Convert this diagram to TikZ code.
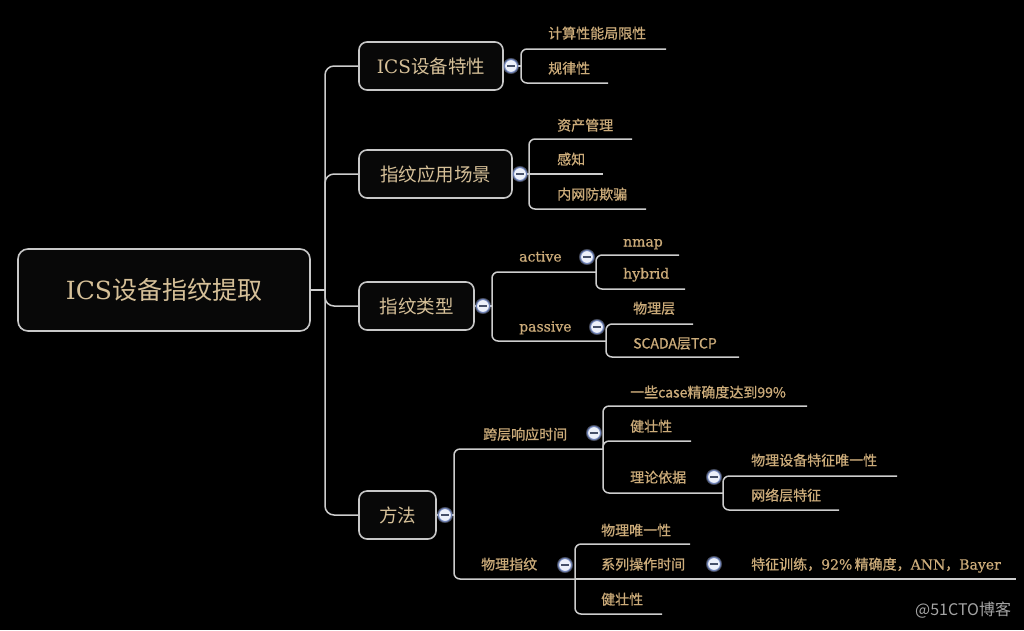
\documentclass[tikz,border=0pt]{standalone}
\usepackage{fontspec}
\setmainfont{DejaVu Serif}
\newfontfamily\cjk{Noto Sans CJK SC}
\newfontfamily\cjkl[FakeBold=0.8]{Noto Sans CJK SC}
\newfontfamily\serl[FakeBold=0.6]{DejaVu Serif}
\definecolor{bgc}{RGB}{0,0,0}
\definecolor{linec}{RGB}{205,205,205}
\definecolor{boxfill}{RGB}{8,8,8}
\definecolor{boxedge}{RGB}{200,200,200}
\definecolor{boxtext}{RGB}{214,192,152}
\definecolor{leaftext}{RGB}{204,172,122}
\definecolor{btnfill}{RGB}{236,240,250}
\definecolor{btnedge}{RGB}{110,130,185}
\definecolor{btnminus}{RGB}{70,80,105}
\definecolor{wmc}{RGB}{165,165,165}
\begin{document}
\begin{tikzpicture}[x=1pt,y=-1pt,
  rootbox/.style={draw=boxedge, fill=boxfill, line width=1.6pt, rounded corners=10pt,
    minimum width=292pt, minimum height=82pt, inner sep=0pt, text=boxtext,
    font=\fontsize{25}{28}\selectfont\cjk},
  topicbox/.style={draw=boxedge, fill=boxfill, line width=1.6pt, rounded corners=8pt,
    minimum height=48pt, inner sep=0pt, text=boxtext,
    font=\fontsize{18.5}{21}\selectfont\cjk},
  leaf/.style={anchor=west, inner sep=0pt, text=leaftext, text height=11.5pt, text depth=2.5pt,
    font=\fontsize{14}{16}\selectfont\cjkl},
  conn/.style={draw=linec, line width=1.5pt, rounded corners=6pt},
  trunk/.style={draw=linec, line width=1.5pt, rounded corners=9pt},
  btn/.style={circle, minimum size=13pt, inner sep=0pt, fill=btnfill, draw=btnedge, line width=1pt,
    preaction={draw=btnedge!70, line width=3pt, opacity=0.45},
    path picture={\draw[btnminus, line width=1.4pt]
      ([xshift=-3.6pt]path picture bounding box.center) -- ([xshift=3.6pt]path picture bounding box.center);}},
  wmark/.style={anchor=west, inner sep=0pt, text=wmc, font=\fontsize{16}{18}\selectfont\cjk}
]
\fill[bgc] (0,0) rectangle (1024,630);
\useasboundingbox (0,0) rectangle (1024,630);

% main boxes
\node[rootbox] (r) at (164,290) {{\rmfamily ICS}设备指纹提取};
\node[topicbox, minimum width=144pt] (b1) at (431,66) {{\rmfamily ICS}设备特性};
\node[topicbox, minimum width=153pt] (b2) at (435.5,174) {指纹应用场景};
\node[topicbox, minimum width=115pt] (b3) at (416.5,306) {指纹类型};
\node[topicbox, minimum width=77pt] (b4) at (397.5,515) {方法};

% coordinates of junctions and line ends
\coordinate (j0) at (325,290);
\coordinate (s1) at (521,66);
\coordinate (e11) at (666,49);
\coordinate (e12) at (608,83);
\coordinate (s2) at (529,174);
\coordinate (e21) at (632,139);
\coordinate (e22) at (603,174);
\coordinate (e23) at (646,209);
\coordinate (s3) at (492,306);
\coordinate (s31) at (596,272);
\coordinate (s32) at (606,341);
\coordinate (e311) at (679,255);
\coordinate (e312) at (685,289);
\coordinate (e321) at (693,324);
\coordinate (e322) at (739,357);
\coordinate (s4) at (454,515);
\coordinate (s41) at (603,449);
\coordinate (s42) at (575,579);
\coordinate (e411) at (807,406);
\coordinate (e412) at (691,441);
\coordinate (s413) at (723,493);
\coordinate (e4131) at (897,476);
\coordinate (e4132) at (839,510);
\coordinate (e421) at (690,544);
\coordinate (s422) at (694,579);
\coordinate (e423) at (662,614);
\coordinate (e4221) at (1016,579);

% trunk
\draw[conn] (r.east) -- (j0);
\draw[trunk] (j0) |- (b1.west);
\draw[trunk] (j0) |- (b2.west);
\draw[trunk] (j0) |- (b3.west);
\draw[trunk] (j0) |- (b4.west);

% branch 1
\draw[conn] (b1.east) -- (s1);
\draw[conn] (s1) |- (e11);
\draw[conn] (s1) |- (e12);
% branch 2
\draw[conn] (b2.east) -- (s2);
\draw[conn] (s2) |- (e21);
\draw[conn] (s2) -- (e22);
\draw[conn] (s2) |- (e23);
% branch 3
\draw[conn] (b3.east) -- (s3);
\draw[conn] (s3) |- (s31);
\draw[conn] (s3) |- (s32);
\draw[conn] (s31) |- (e311);
\draw[conn] (s31) |- (e312);
\draw[conn] (s32) |- (e321);
\draw[conn] (s32) |- (e322);
% branch 4
\draw[conn] (b4.east) -- (s4);
\draw[conn] (s4) |- (s41);
\draw[conn] (s4) |- (s42);
\draw[conn] (s41) |- (e411);
\draw[conn] (s41) |- (e412);
\draw[conn] (s41) |- (s413);
\draw[conn] (s413) |- (e4131);
\draw[conn] (s413) |- (e4132);
\draw[conn] (s42) |- (e421);
\draw[conn] (s42) -- (s422);
\draw[conn] (s42) |- (e423);
\draw[conn] (s422) -- (e4221);

% leaf texts
\node[leaf] (t11) at (548,34) {计算性能局限性};
\node[leaf] (t12) at (548,69) {规律性};
\node[leaf] (t21) at (557,126) {资产管理};
\node[leaf] (t22) at (557,160) {感知};
\node[leaf] (t23) at (557,195) {内网防欺骗};
\node[leaf] (t31) at (519,257) {\serl active};
\node[leaf] (t32) at (519,327) {\serl passive};
\node[leaf] (t311) at (623,242) {\serl nmap};
\node[leaf] (t312) at (623,274) {\serl hybrid};
\node[leaf] (t321) at (633,309) {物理层};
\node[leaf] (t322) at (633,344) {SCADA层TCP};
\node[leaf] (t41) at (483,435) {跨层响应时间};
\node[leaf] (t42) at (481,565) {物理指纹};
\node[leaf] (t411) at (630,393) {一些case精确度达到99\%};
\node[leaf] (t412) at (630,427) {健壮性};
\node[leaf] (t413) at (630,478) {理论依据};
\node[leaf] (t4131) at (751,461) {物理设备特征唯一性};
\node[leaf] (t4132) at (751,496) {网络层特征};
\node[leaf] (t421) at (601,531) {物理唯一性};
\node[leaf] (t422) at (601,565) {系列操作时间};
\node[leaf] (t423) at (601,600) {健壮性};
\node[leaf] (t4221) at (751,565) {特征训练，{\serl 92\%}\,精确度，{\serl ANN}，{\serl Bayer}};

% collapse buttons
\node[btn] (k1) at (511,66) {};
\node[btn] (k2) at (520,174) {};
\node[btn] (k3) at (483,306) {};
\node[btn] (k4) at (445,515) {};
\node[btn] (k31) at (587,257) {};
\node[btn] (k32) at (597,327) {};
\node[btn] (k41) at (594,433) {};
\node[btn] (k413) at (714,477) {};
\node[btn] (k42) at (565,565) {};
\node[btn] (k422) at (714,564) {};

% watermark
\node[wmark] (wm) at (915,610) {@51CTO博客};
\end{tikzpicture}
\end{document}
